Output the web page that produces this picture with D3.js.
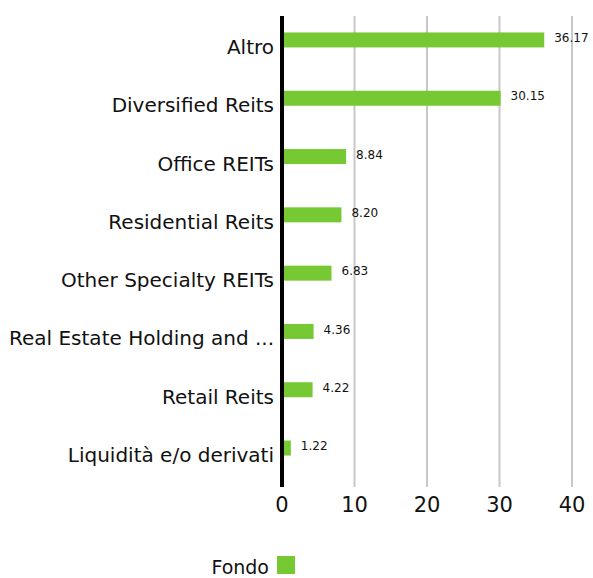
<!DOCTYPE html>
<html>
<head>
<meta charset="utf-8">
<script src="https://cdn.jsdelivr.net/npm/d3@7/dist/d3.min.js"></script>
<style>
  body { margin: 0; background: #fff; }
  text { font-family: "DejaVu Sans", sans-serif; fill: #111; }
</style>
</head>
<body>
<div id="chart"></div>
<script>
'use strict';

const categories = ['Altro', 'Diversified Reits', 'Office REITs', 'Residential Reits',
  'Other Specialty REITs', 'Real Estate Holding and ...', 'Retail Reits', 'Liquidità e/o derivati'];
const values = [36.17, 30.15, 8.84, 8.20, 6.83, 4.36, 4.22, 1.22];
const ticks = [0, 10, 20, 30, 40];
const seriesName = 'Fondo';

const width = 593, height = 578;
const green = '#76c933';

const svg = d3.select('#chart')
  .append('svg')
    .attr('width', width)
    .attr('height', height);

const x = d3.scaleLinear().domain([0, 40]).range([282, 572]);
const y = d3.scaleBand().domain(categories).range([10.8, 477.2]);

// gridlines
svg.append('g')
  .selectAll('line')
  .data(ticks.filter(t => t > 0))
  .join('line')
    .attr('x1', d => x(d))
    .attr('x2', d => x(d))
    .attr('y1', 16)
    .attr('y2', 487)
    .attr('stroke', '#c8c8c8')
    .attr('stroke-width', 2);

// tick labels
svg.append('g')
  .selectAll('text')
  .data(ticks)
  .join('text')
    .attr('x', d => x(d))
    .attr('y', 512)
    .attr('text-anchor', 'middle')
    .style('font-size', '21px')
    .text(d => d);

// bars
svg.append('g')
  .selectAll('rect')
  .data(values)
  .join('rect')
    .attr('x', x(0))
    .attr('y', (d, i) => y(categories[i]) + y.bandwidth() / 2 - 7.5)
    .attr('width', d => x(d) - x(0))
    .attr('height', 15)
    .attr('fill', green);

// value labels
svg.append('g')
  .selectAll('text')
  .data(values)
  .join('text')
    .attr('x', d => x(d) + 10)
    .attr('y', (d, i) => y(categories[i]) + y.bandwidth() / 2 - 2)
    .attr('dy', '0.35em')
    .style('font-size', '12px')
    .text(d => d.toFixed(2));

// category labels
svg.append('g')
  .selectAll('text')
  .data(categories)
  .join('text')
    .attr('x', 274)
    .attr('y', d => y(d) + y.bandwidth() / 2 + 7)
    .attr('dy', '0.35em')
    .attr('text-anchor', 'end')
    .style('font-size', '20px')
    .text(d => d);

// zero axis
svg.append('line')
  .attr('x1', x(0))
  .attr('x2', x(0))
  .attr('y1', 16)
  .attr('y2', 487)
  .attr('stroke', '#000')
  .attr('stroke-width', 4);

// legend
const legend = svg.append('g');
legend.append('text')
  .attr('x', 269)
  .attr('y', 574)
  .attr('text-anchor', 'end')
  .style('font-size', '19px')
  .text(seriesName);
legend.append('rect')
  .attr('x', 277)
  .attr('y', 556)
  .attr('width', 18)
  .attr('height', 18)
  .attr('fill', green);
</script>
</body>
</html>
